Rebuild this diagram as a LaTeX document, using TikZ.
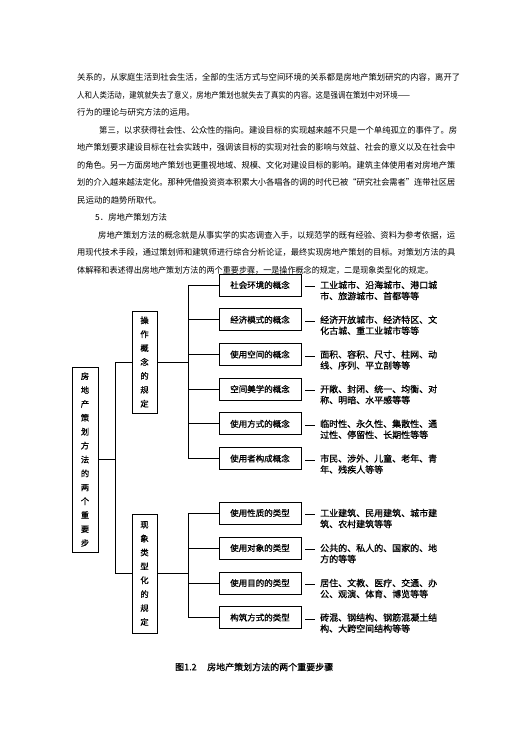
\documentclass[tikz,border=0pt]{standalone}
\usepackage{fontspec}
\usepackage{graphicx}
\setmainfont{Noto Sans CJK SC}
\newfontfamily\diagfont{Noto Sans CJK SC}[FakeBold=0.8]
\newcommand\fitw[2]{\resizebox{#1pt}{\height}{#2}}
\tikzset{
  bodytxt/.style={anchor=west, inner sep=0pt, font=\fontsize{8.4}{10}\selectfont},
  vbox/.style={draw, line width=0.8pt, inner sep=0pt, align=center, font=\diagfont\fontsize{8.3}{13.9}\selectfont},
  cbox/.style={draw, line width=0.8pt, minimum width=82pt, minimum height=22pt, inner sep=0pt, font=\diagfont\fontsize{8.5}{10}\selectfont},
  desc/.style={anchor=west, inner sep=0pt, align=left, font=\diagfont\fontsize{9}{11}\selectfont},
  link/.style={line width=0.8pt},
  captxt/.style={anchor=west, inner sep=0pt, font=\diagfont\fontsize{9}{10}\selectfont},
}
\begin{document}
\begin{tikzpicture}[x=1pt,y=-1pt]
\useasboundingbox (0,0) rectangle (529,748);
% body text
\node[bodytxt] (l1) at (77,77.5) {\fitw{383}{关系的，从家庭生活到社会生活，全部的生活方式与空间环境的关系都是房地产策划研究的内容，离开了}};
\node[bodytxt] (l2) at (77,95) {\fitw{333}{人和人类活动，建筑就失去了意义，房地产策划也就失去了真实的内容。这是强调在策划中对环境——}};
\node[bodytxt] (l3) at (77,112.5) {行为的理论与研究方法的运用。};
\node[bodytxt] (l4) at (99,130) {\fitw{358}{第三，以求获得社会性、公众性的指向。建设目标的实现越来越不只是一个单纯孤立的事件了。房}};
\node[bodytxt] (l5) at (77,147.5) {\fitw{378}{地产策划要求建设目标在社会实践中，强调该目标的实现对社会的影响与效益、社会的意义以及在社会中}};
\node[bodytxt] (l6) at (77,165) {\fitw{378}{的角色。另一方面房地产策划也更重视地域、规模、文化对建设目标的影响。建筑主体使用者对房地产策}};
\node[bodytxt] (l7) at (77,182.5) {\fitw{378}{划的介入越来越法定化。那种凭借投资资本积累大小各唱各的调的时代已被“研究社会需者”连带社区居}};
\node[bodytxt] (l8) at (77,200) {民运动的趋势所取代。};
\node[bodytxt] (l9) at (95,217.5) {5．房地产策划方法};
\node[bodytxt] (l10) at (98,235) {\fitw{357}{房地产策划方法的概念就是从事实学的实态调查入手，以规范学的既有经验、资料为参考依据，运}};
\node[bodytxt] (l11) at (77,252.5) {\fitw{378}{用现代技术手段，通过策划师和建筑师进行综合分析论证，最终实现房地产策划的目标。对策划方法的具}};
\node[bodytxt] (l12) at (77,270) {\fitw{356}{体解释和表述得出房地产策划方法的两个重要步骤，一是操作概念的规定，二是现象类型化的规定。}};
% diagram
\coordinate (j1) at (115,0);
\coordinate (j2) at (188,0);
\node[vbox, minimum width=26pt, minimum height=185pt] (root) at (85,459.5) {房\\地\\产\\策\\划\\方\\法\\的\\两\\个\\重\\要\\步};
\node[vbox, minimum width=25pt, minimum height=102pt] (m1) at (144.5,362) {操\\作\\概\\念\\的\\规\\定};
\node[vbox, minimum width=25pt, minimum height=119pt] (m2) at (144.5,573.5) {现\\象\\类\\型\\化\\的\\规\\定};
\node[cbox] (b1) at (260,285) {社会环境的概念};
\node[cbox] (b2) at (260,319.7) {经济模式的概念};
\node[cbox] (b3) at (260,354.4) {使用空间的概念};
\node[cbox] (b4) at (260,389.1) {空间美学的概念};
\node[cbox] (b5) at (260,423.8) {使用方式的概念};
\node[cbox] (b6) at (260,458.5) {使用者构成概念};
\node[cbox] (b7) at (260,513) {使用性质的类型};
\node[cbox] (b8) at (260,548) {使用对象的类型};
\node[cbox] (b9) at (260,583) {使用目的的类型};
\node[cbox] (b10) at (260,617.5) {构筑方式的类型};
\node[desc] (d1) at (320,290.5) {工业城市、沿海城市、港口城\\市、旅游城市、首都等等};
\node[desc] (d2) at (320,325.2) {经济开放城市、经济特区、文\\化古城、重工业城市等等};
\node[desc] (d3) at (320,359.9) {面积、容积、尺寸、柱网、动\\线、序列、平立剖等等};
\node[desc] (d4) at (320,394.6) {开敞、封闭、统一、均衡、对\\称、明暗、水平感等等};
\node[desc] (d5) at (320,429.3) {临时性、永久性、集散性、通\\过性、停留性、长期性等等};
\node[desc] (d6) at (320,464) {市民、涉外、儿童、老年、青\\年、残疾人等等};
\node[desc] (d7) at (320,518.5) {工业建筑、民用建筑、城市建\\筑、农村建筑等等};
\node[desc] (d8) at (320,553.5) {公共的、私人的、国家的、地\\方的等等};
\node[desc] (d9) at (320,588.5) {居住、文教、医疗、交通、办\\公、观演、体育、博览等等};
\node[desc] (d10) at (320,623) {砖混、钢结构、钢筋混凝土结\\构、大跨空间结构等等};
% connectors
\draw[link] (root.east) -- (root.east -| j1);
\draw[link] (m1.west) -- (m1.west -| j1) -- (m2.west -| j1) -- (m2.west);
\draw[link] (m1.east) -- (m1.east -| j2);
\draw[link] (m2.east) -- (m2.east -| j2);
\draw[link] (b1.west -| j2) -- (b6.west -| j2);
\draw[link] (b7.west -| j2) -- (b10.west -| j2);
\foreach \b in {b1,b2,b3,b4,b5,b6,b7,b8,b9,b10}{
  \draw[link] (\b.west) -- (\b.west -| j2);
  \draw[link] ([xshift=4pt,yshift=-1.5pt]\b.east) -- ([xshift=14pt,yshift=-1.5pt]\b.east);
}
% caption
\node[captxt] (cap1) at (175,667) {图1.2};
\node[captxt] (cap2) at (207,667) {房地产策划方法的两个重要步骤};
\end{tikzpicture}
\end{document}
